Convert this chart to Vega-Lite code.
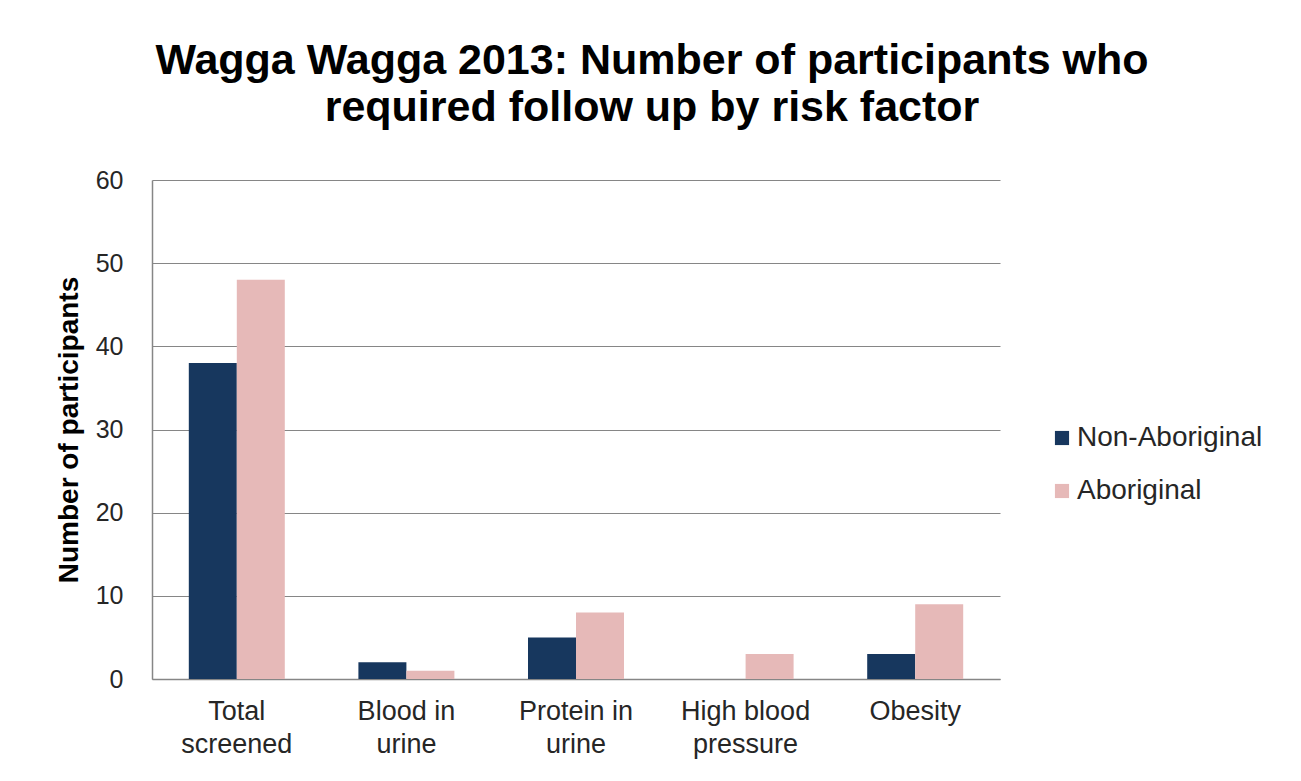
{
  "$schema": "https://vega.github.io/schema/vega-lite/v6.json",
  "autosize": {"type": "none"},
  "width": 848,
  "height": 499,
  "padding": {"left": 152, "top": 180, "right": 301, "bottom": 102},
  "background": "white",
  "title": {
    "text": ["Wagga Wagga 2013: Number of participants who", "required follow up by risk factor"],
    "font": "Liberation Sans",
    "fontSize": 43,
    "fontWeight": "bold",
    "color": "#000000",
    "anchor": "middle",
    "dx": 76,
    "offset": 38,
    "lineHeight": 47
  },
  "data": {
    "values": [
      {"factor": "Total screened", "group": "Non-Aboriginal", "count": 38},
      {"factor": "Total screened", "group": "Aboriginal", "count": 48},
      {"factor": "Blood in urine", "group": "Non-Aboriginal", "count": 2},
      {"factor": "Blood in urine", "group": "Aboriginal", "count": 1},
      {"factor": "Protein in urine", "group": "Non-Aboriginal", "count": 5},
      {"factor": "Protein in urine", "group": "Aboriginal", "count": 8},
      {"factor": "High blood pressure", "group": "Non-Aboriginal", "count": 0},
      {"factor": "High blood pressure", "group": "Aboriginal", "count": 3},
      {"factor": "Obesity", "group": "Non-Aboriginal", "count": 3},
      {"factor": "Obesity", "group": "Aboriginal", "count": 9}
    ]
  },
  "mark": {"type": "bar"},
  "encoding": {
    "x": {
      "field": "factor",
      "type": "nominal",
      "sort": ["Total screened", "Blood in urine", "Protein in urine", "High blood pressure", "Obesity"],
      "scale": {"paddingInner": 0.434, "paddingOuter": 0.217},
      "axis": {
        "title": null,
        "labelAngle": 0,
        "labelFont": "Liberation Sans",
        "labelFontSize": 27,
        "labelColor": "#262626",
        "labelPadding": 19,
        "labelLineHeight": 33,
        "labelBaseline": "top",
        "labelLimit": 300,
        "ticks": false,
        "domainColor": "#868686",
        "domainWidth": 1.5,
        "grid": false,
        "labelExpr": "lastindexof(datum.label, ' ') > 0 ? [slice(datum.label, 0, lastindexof(datum.label, ' ')), slice(datum.label, lastindexof(datum.label, ' ') + 1)] : datum.label"
      }
    },
    "xOffset": {
      "field": "group",
      "type": "nominal",
      "sort": ["Non-Aboriginal", "Aboriginal"],
      "scale": {"paddingInner": 0, "paddingOuter": 0}
    },
    "y": {
      "field": "count",
      "type": "quantitative",
      "scale": {"domain": [0, 60], "nice": false},
      "axis": {
        "title": "Number of participants",
        "titleFont": "Liberation Sans",
        "titleFontSize": 28,
        "titleFontWeight": "bold",
        "titleColor": "#000000",
        "titlePadding": 12,
        "values": [0, 10, 20, 30, 40, 50, 60],
        "labelFont": "Liberation Sans",
        "labelFontSize": 25,
        "labelColor": "#262626",
        "labelPadding": 29,
        "ticks": false,
        "domainColor": "#868686",
        "domainWidth": 1.5,
        "gridColor": "#868686",
        "gridWidth": 1.2
      }
    },
    "color": {
      "field": "group",
      "type": "nominal",
      "sort": ["Non-Aboriginal", "Aboriginal"],
      "scale": {"domain": ["Non-Aboriginal", "Aboriginal"], "range": ["#17375E", "#E6B9B8"]},
      "legend": {
        "title": null,
        "orient": "none",
        "legendX": 896,
        "legendY": 244,
        "symbolType": "square",
        "symbolSize": 200,
        "symbolStrokeWidth": 0,
        "labelFont": "Liberation Sans",
        "labelFontSize": 28,
        "labelLimit": 300,
        "labelColor": "#262626",
        "labelOffset": 1,
        "rowPadding": 25
      }
    }
  },
  "config": {
    "view": {"stroke": null}
  }
}
